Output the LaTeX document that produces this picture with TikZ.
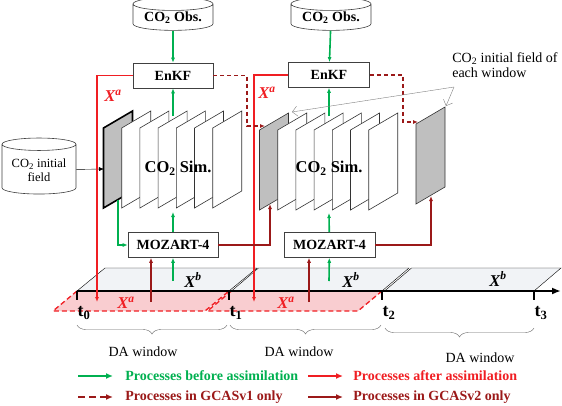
\documentclass[tikz,border=0pt]{standalone}
\usepackage{fontspec}
\setmainfont{Liberation Serif}
\usepackage{tikz}
\usetikzlibrary{arrows.meta, positioning, shapes.geometric, decorations.pathreplacing}

\definecolor{procgreen}{RGB}{0,176,80}
\definecolor{procred}{RGB}{240,30,35}
\definecolor{gcasred}{RGB}{155,25,25}
\definecolor{planegray}{RGB}{191,191,191}
\definecolor{xbfill}{RGB}{241,243,246}
\definecolor{xafill}{RGB}{249,205,208}

% one model layer of the ensemble stack: x, bottom y, style
\newcommand{\simplane}[3]{%
  \draw[#3] (#1,#2) -- ++(0,-80) -- ++(29,-17) -- ++(0,80) -- cycle;}

\begin{document}
\begin{tikzpicture}[x=1pt, y=-1pt, >={Latex[length=5pt,width=4pt]}, semithick]
    \tikzstyle{db}=[cylinder, shape border rotate=90, aspect=0.22, draw=black!75, fill=white, align=center, inner sep=1pt]
    \tikzstyle{box}=[draw=black!75, fill=white, font=\fontsize{14}{16}\selectfont\bfseries, minimum height=25pt, inner sep=2pt]
    \tikzstyle{simtext}=[font=\fontsize{16.5}{18}\selectfont\bfseries]
    \tikzstyle{xlabel}=[font=\fontsize{16.5}{18}\selectfont\bfseries\itshape]
    \tikzstyle{tlabel}=[font=\fontsize{18}{20}\selectfont\bfseries]
    \tikzstyle{before}=[procgreen, line width=1.6pt, ->]
    \tikzstyle{after}=[procred, line width=1.3pt, ->]
    \tikzstyle{vtwo}=[gcasred, line width=1.3pt, ->]
    \tikzstyle{vone}=[gcasred, line width=1.4pt, dash pattern=on 4pt off 3pt, ->]
    \tikzstyle{xadash}=[procred, line width=1.3pt, dash pattern=on 5pt off 3pt]
    \tikzstyle{window}=[gray!80!black, thin, decorate, decoration={brace, mirror, amplitude=9pt}]
    \tikzstyle{plain}=[font=\fontsize{14}{15}\selectfont]
    \tikzstyle{legtext}=[font=\fontsize{14}{16}\selectfont\bfseries, anchor=west, inner sep=0pt]

    \useasboundingbox (0,0) rectangle (562,405);

    % --- DATA SOURCES AND FILTERS ---
    \node[db, minimum width=80pt, minimum height=33pt, font=\fontsize{14}{16}\selectfont\bfseries] (obsL) at (173,18) {CO\textsubscript{2} Obs.};
    \node[db, minimum width=80pt, minimum height=33pt, font=\fontsize{14}{16}\selectfont\bfseries] (obsR) at (331,18) {CO\textsubscript{2} Obs.};
    \node[box, minimum width=80pt] (enkfL) at (173,75.5) {EnKF};
    \node[box, minimum width=81pt] (enkfR) at (329,75) {EnKF};
    \node[box, minimum width=90pt] (mozL) at (173,245) {MOZART-4};
    \node[box, minimum width=91pt] (mozR) at (329.5,245) {MOZART-4};
    \node[db, minimum width=74pt, minimum height=56pt, font=\fontsize{12.5}{14}\selectfont] (init) at (39,170) {CO\textsubscript{2} initial\\field};

    % --- ENSEMBLE STACKS ---
    \simplane{103.5}{208}{fill=planegray, line width=1.6pt}
    \foreach \i in {1,...,6} {\simplane{103.5+18.2*\i}{208}{fill=white, draw=black!80}}
    \simplane{259.5}{210}{fill=planegray, draw=black!80}
    \foreach \i in {1,...,6} {\simplane{259.5+18.2*\i}{210}{fill=white, draw=black!80}}
    \simplane{416}{204}{fill=planegray, draw=black!80}
    \node[simtext] (simL) at (178,168) {CO\textsubscript{2} Sim.};
    \node[simtext] (simR) at (329,168) {CO\textsubscript{2} Sim.};

    % anchor points on the stacks
    \coordinate (gLin) at (104,169);
    \coordinate (gLbot) at (118,200);
    \coordinate (stackLtop) at (173,116);
    \coordinate (stackLbot) at (173,212);
    \coordinate (gRin) at (265,126);
    \coordinate (gRbot) at (270,204);
    \coordinate (gRtip) at (292,112);
    \coordinate (stackRtop) at (329,116);
    \coordinate (stackRbot) at (329,213);
    \coordinate (loneIn) at (418,122);
    \coordinate (loneBot) at (431,196);
    \coordinate (loneTip) at (446,106);
    \coordinate (kinkL) at (247,126);
    \coordinate (kinkR) at (403,122);

    % --- TIME AXIS ---
    \foreach \t/\n in {77/t0, 229/t1, 382/t2, 534/t3} \coordinate (\n) at (\t,291);
    \coordinate (axisEnd) at (561,291);
    \filldraw[fill=xbfill, draw=black, thin] (t0) -- ++(28,-23) -- (257,268) -- (t1) -- cycle;
    \filldraw[fill=xbfill, draw=black, thin] (231.5,291) -- ++(27,-23) -- (409,268) -- (t2) -- cycle;
    \filldraw[fill=xbfill, draw=black, thin] (384.5,291) -- ++(27,-23) -- (561,268) -- (t3) -- cycle;
    \fill[xafill] (t0) -- (53,311) -- (205,311) -- (t1) -- cycle;
    \fill[xafill] (t1) -- (207,311) -- (358,311) -- (t2) -- cycle;
    \draw[xadash] (t0) -- (53,311) -- (205,311) -- (t1);
    \draw[xadash] (231.5,291) -- (207.5,311) -- (358,311) -- (t2);
    \draw[line width=2.2pt, -{Latex[length=9pt,width=7pt]}] (t0) -- (axisEnd);
    \foreach \n/\k in {t0/0, t1/1, t2/2, t3/3} {
        \draw[line width=1.3pt] (\n) -- ++(0,9);
        \node[tlabel] (lab\n) at ([xshift=7pt,yshift=-22pt]\n) {t\textsubscript{\k}};
    }
    \node[xlabel, procred] (xaL) at (126,303) {X\textsuperscript{a}};
    \node[xlabel, procred] (xaR) at (286,303) {X\textsuperscript{a}};
    \node[xlabel] (xbL) at (193,280) {X\textsuperscript{b}};
    \node[xlabel] (xbM) at (351,280) {X\textsuperscript{b}};
    \node[xlabel] (xbR) at (498,279) {X\textsuperscript{b}};
    \node[xlabel, procred] (xaTopL) at (113,96) {X\textsuperscript{a}};
    \node[xlabel, procred] (xaTopR) at (267,93) {X\textsuperscript{a}};

    % --- BEFORE ASSIMILATION ---
    \draw[before] (obsL) -- (enkfL);
    \draw[before] (obsR) -- (enkfR);
    \draw[before] (stackLtop) -- (enkfL);
    \draw[before] (stackRtop) -- (enkfR);
    \draw[before] (mozL) -- (stackLbot);
    \draw[before] (mozR) -- (stackRbot);
    \draw[before] (gLbot) |- (mozL);
    \coordinate (bgL) at (173,281);
    \coordinate (bgR) at (329,281);
    \draw[before] (bgL) -- (mozL);
    \draw[before] (bgR) -- (mozR);
    \draw[black, thin, ->] (init) -- (gLin);

    % --- AFTER ASSIMILATION ---
    \coordinate (anL) at (97,302);
    \coordinate (anR) at (254,302);
    \draw[after] (enkfL.west) -| (anL);
    \draw[after] (enkfR.west) -| (anR);

    % --- GCASv1 / GCASv2 ---
    \draw[vone] (enkfL.east) -| (kinkL) -- (gRin);
    \draw[vone] (enkfR.east) -| (kinkR) -- (loneIn);
    \draw[vtwo] (mozL.east) -| (gRbot);
    \draw[vtwo] (mozR.east) -| (loneBot);
    \coordinate (ugL) at (151,302);
    \coordinate (ugR) at (309,302);
    \draw[vtwo] (ugL) -- (ugL |- mozL.south);
    \draw[vtwo] (ugR) -- (ugR |- mozR.south);

    % --- NOTE ---
    \node[plain, align=left, anchor=north west, inner sep=0pt] (note) at (452,52) {CO\textsubscript{2} initial field of\\each window};
    \coordinate (noteRoot) at (454,87);
    \draw[gray, thin, -{Straight Barb[length=5pt]}] (noteRoot) -- (gRtip);
    \draw[gray, thin, -{Straight Barb[length=5pt]}] (noteRoot) -- (loneTip);

    % --- DA WINDOWS ---
    \draw[window] (77,325) -- (227,325);
    \draw[window] (230,325) -- (381,325);
    \draw[window] (385,328) -- (534,328);
    \node[plain] (daA) at (143,352) {DA window};
    \node[plain] (daB) at (299,352) {DA window};
    \node[plain] (daC) at (480,358) {DA window};

    % --- LEGEND ---
    \node[legtext, procgreen] (lgA) at (125,376) {Processes before assimilation};
    \node[legtext, procred] (lgB) at (353,376) {Processes after assimilation};
    \node[legtext, gcasred] (lgC) at (125,397) {Processes in GCASv1 only};
    \node[legtext, gcasred] (lgD) at (353,397) {Processes in GCASv2 only};
    \draw[before, -{Latex[length=7pt,width=6pt]}] ([xshift=-47pt]lgA.west) -- ([xshift=-12pt]lgA.west);
    \draw[after, -{Latex[length=7pt,width=6pt]}] ([xshift=-45pt]lgB.west) -- ([xshift=-10pt]lgB.west);
    \draw[vone, dash pattern=on 7pt off 4pt, -{Latex[length=7pt,width=6pt]}] ([xshift=-47pt]lgC.west) -- ([xshift=-12pt]lgC.west);
    \draw[vtwo, -{Latex[length=7pt,width=6pt]}] ([xshift=-45pt]lgD.west) -- ([xshift=-10pt]lgD.west);

\end{tikzpicture}
\end{document}
